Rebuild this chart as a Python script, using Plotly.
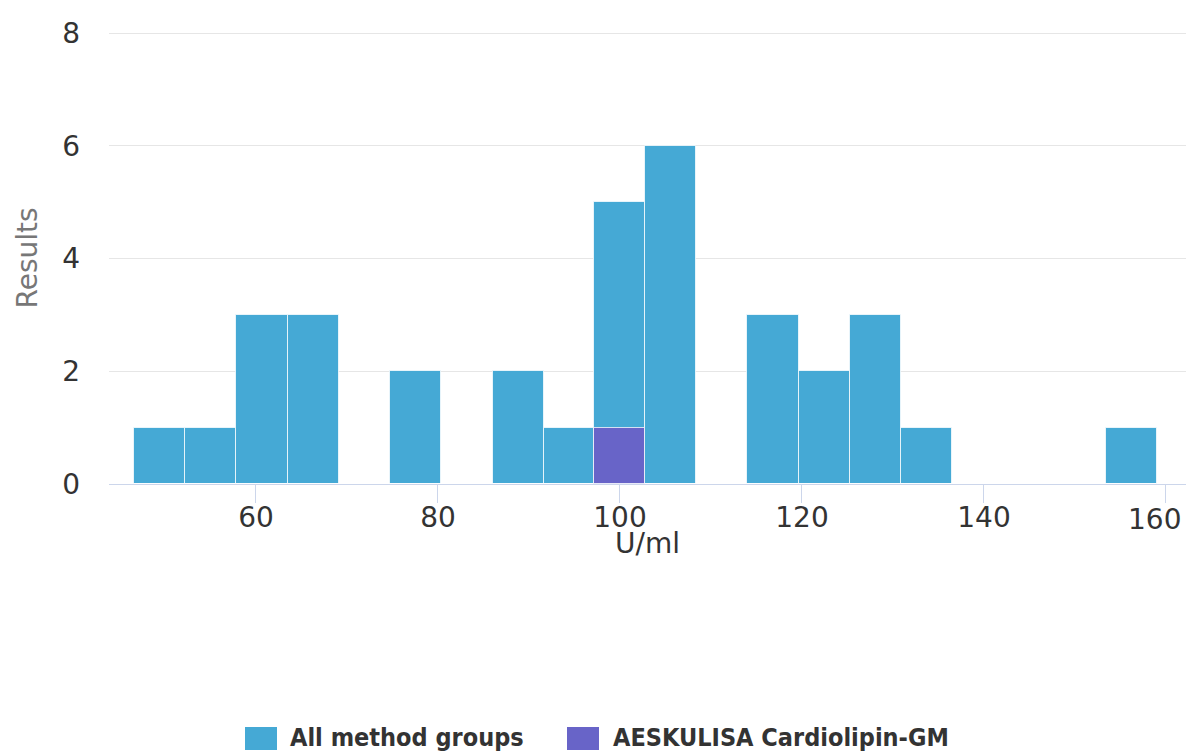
import plotly.graph_objects as go

# ---- data ----
bin_edges = [46.6, 52.2, 57.8, 63.5, 69.1, 74.7, 80.3, 86.0, 91.6, 97.2, 102.8,
             108.4, 114.0, 119.7, 125.3, 130.9, 136.5, 142.1, 147.8, 153.4, 159.0]
all_counts = [1, 1, 3, 3, 0, 2, 0, 2, 1, 5, 6, 0, 3, 2, 3, 1, 0, 0, 0, 1]
aesk_counts = [0, 0, 0, 0, 0, 0, 0, 0, 0, 1, 0, 0, 0, 0, 0, 0, 0, 0, 0, 0]
series_names = ["All method groups", "AESKULISA Cardiolipin-GM"]
series_colors = ["#45a9d5", "#6864c8"]
x_ticks = [60, 80, 100, 120, 140, 160]
y_ticks = [0, 2, 4, 6, 8]
x_title = "U/ml"
y_title = "Results"

centers = [(a + b) / 2 for a, b in zip(bin_edges[:-1], bin_edges[1:])]
widths = [b - a for a, b in zip(bin_edges[:-1], bin_edges[1:])]

fig = go.Figure()
for counts, name, color in zip([all_counts, aesk_counts], series_names, series_colors):
    fig.add_trace(go.Bar(
        x=centers, y=counts, width=widths, name=name,
        marker=dict(color=color, line=dict(color="rgba(255,255,255,0.75)", width=1)),
        showlegend=False,
    ))

W, H = 1186, 751
L, R, T, B = 109, 0, 32, 267
pw, ph = W - L - R, H - T - B

def px(x):
    return (x - L) / pw

def py(y):
    return (H - B - y) / ph

TICK_FONT = dict(family="DejaVu Sans", size=28, color="#333333")

# manual legend (large square symbols like the reference)
legend_items = [(245, 277, 288), (567, 599, 611)]
shapes, annotations = [], []
for (x0, x1, tx), name, color in zip(legend_items, series_names, series_colors):
    shapes.append(dict(type="rect", xref="paper", yref="paper",
                       x0=px(x0), x1=px(x1), y0=py(750), y1=py(727),
                       fillcolor=color, line=dict(width=0)))
    annotations.append(dict(xref="paper", yref="paper", x=px(tx), y=py(737.5),
                            xanchor="left", yanchor="middle", showarrow=False,
                            text=name,
                            font=dict(family="DejaVu Sans Condensed, DejaVu Sans", size=25,
                                      color="#333333", weight="bold")))

# last x tick label is pulled inside the chart edge, as in the reference
tick_text = [str(v) for v in x_ticks[:-1]] + [""]
annotations.append(dict(xref="x", yref="paper", x=x_ticks[-1], xshift=-11,
                        y=py(519), yanchor="middle", xanchor="center",
                        showarrow=False, text=str(x_ticks[-1]), font=TICK_FONT))
# x axis title
annotations.append(dict(xref="paper", yref="paper", x=0.5, y=py(543),
                        xanchor="center", yanchor="middle", showarrow=False,
                        text=x_title, font=dict(family="DejaVu Sans", size=28, color="#333333")))

fig.update_layout(
    width=W, height=H,
    margin=dict(l=L, r=R, t=T, b=B, pad=0),
    paper_bgcolor="white", plot_bgcolor="white",
    barmode="overlay", bargap=0,
    font=dict(family="DejaVu Sans", color="#333333"),
    shapes=shapes, annotations=annotations,
    xaxis=dict(
        range=[43.85, 162.2], tickvals=x_ticks, ticktext=tick_text,
        showgrid=False, zeroline=False,
        showline=True, linecolor="#ccd6eb", linewidth=1,
        ticks="outside", ticklen=18, tickcolor="#ccd6eb", tickwidth=1,
        ticklabelstandoff=-10,
        tickfont=TICK_FONT,
        automargin=False,
    ),
    yaxis=dict(
        range=[0, 8.02], tickvals=y_ticks, ticktext=[str(v) for v in y_ticks],
        showgrid=True, gridcolor="#e6e6e6", gridwidth=1,
        zeroline=False, showline=False, ticks="",
        ticklabelstandoff=28,
        tickfont=TICK_FONT,
        title=dict(text=y_title, standoff=16,
                   font=dict(family="DejaVu Sans", size=28, color="#777777")),
        automargin=False,
    ),
)

fig.write_html("out.html", config={"displayModeBar": False},
               post_script="document.body.style.margin='0';")
